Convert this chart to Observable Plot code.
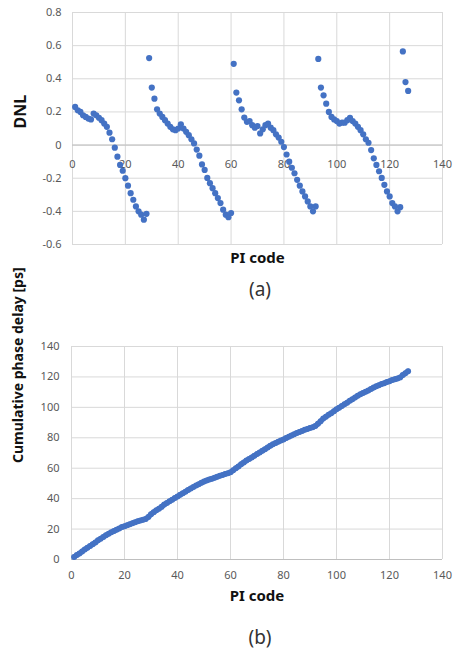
<!DOCTYPE html>
<html><head><meta charset="utf-8">
<script src="https://cdn.jsdelivr.net/npm/d3@7"></script>
<script src="https://cdn.jsdelivr.net/npm/@observablehq/plot@0.6"></script>
<style>
body{margin:0;background:#fff;font-family:"Noto Sans",sans-serif;}
#wrap{position:relative;width:453px;height:654px;overflow:hidden;background:#fff;}
#wrap svg{position:absolute;left:0;}
.cap{position:absolute;left:210px;width:100px;text-align:center;font-size:19px;line-height:24px;color:#333;}
</style></head><body><div id="wrap"></div>
<script>
// PI codes 1..127
const piCodes = d3.range(1, 128);

const dnl = [
  0.23, 0.21, 0.20, 0.18, 0.17, 0.16, 0.155, 0.19, 0.18, 0.165,
  0.15, 0.13, 0.11, 0.075, 0.035, -0.016, -0.07, -0.12, -0.155, -0.20,
  -0.245, -0.29, -0.33, -0.37, -0.40, -0.42, -0.45, -0.415, 0.525, 0.347,
  0.28, 0.216, 0.19, 0.17, 0.15, 0.13, 0.11, 0.095, 0.09, 0.10,
  0.125, 0.10, 0.08, 0.06, 0.035, 0.01, -0.027, -0.064, -0.117, -0.15,
  -0.198, -0.23, -0.26, -0.29, -0.32, -0.35, -0.39, -0.42, -0.435, -0.41,
  0.49, 0.317, 0.27, 0.216, 0.166, 0.14, 0.145, 0.12, 0.105, 0.115,
  0.07, 0.095, 0.12, 0.13, 0.105, 0.09, 0.065, 0.045, 0.02, -0.012,
  -0.057, -0.10, -0.137, -0.17, -0.21, -0.245, -0.28, -0.31, -0.34, -0.37,
  -0.40, -0.37, 0.52, 0.347, 0.30, 0.25, 0.20, 0.17, 0.155, 0.145,
  0.13, 0.135, 0.135, 0.15, 0.165, 0.145, 0.13, 0.11, 0.09, 0.065,
  0.035, 0.014, -0.03, -0.08, -0.12, -0.158, -0.198, -0.24, -0.28, -0.31,
  -0.35, -0.37, -0.40, -0.375, 0.565, 0.38, 0.327
];

const delay = [
  1.7, 2.9, 4.0, 5.2, 6.6, 7.7, 8.9, 10.0, 11.2, 12.6,
  13.7, 14.8, 15.9, 16.9, 17.9, 18.7, 19.6, 20.4, 21.3, 21.8,
  22.5, 23.2, 23.9, 24.5, 25.1, 25.6, 26.1, 26.7, 28.0, 29.7,
  31.0, 32.3, 33.4, 34.6, 36.1, 37.2, 38.3, 39.3, 40.4, 41.4,
  42.5, 43.6, 44.6, 45.7, 46.7, 47.7, 48.6, 49.5, 50.4, 51.2,
  52.0, 52.6, 53.1, 53.7, 54.4, 55.0, 55.6, 56.2, 56.7, 57.3,
  58.6, 59.9, 61.2, 62.6, 63.8, 65.0, 66.1, 67.1, 68.2, 69.3,
  70.3, 71.4, 72.5, 73.6, 74.7, 75.7, 76.5, 77.4, 78.2, 78.9,
  79.8, 80.7, 81.5, 82.3, 83.1, 83.8, 84.5, 85.2, 85.8, 86.5,
  87.0, 87.7, 89.3, 90.8, 92.6, 93.9, 95.1, 96.2, 97.4, 98.7,
  99.8, 100.9, 102.0, 103.1, 104.3, 105.4, 106.5, 107.6, 108.6, 109.5,
  110.3, 111.1, 112.1, 113.0, 113.8, 114.6, 115.3, 115.9, 116.6, 117.2,
  117.9, 118.5, 119.0, 119.7, 121.2, 122.5, 123.8
];

const xTicks = [0, 20, 40, 60, 80, 100, 120, 140];
const dnlTicks = [-0.6, -0.4, -0.2, 0, 0.2, 0.4, 0.6, 0.8];
const dnlTickLabels = ["-0.6", "-0.4", "-0.2", "0", "0.2", "0.4", "0.6", "0.8"];
const delayTicks = [0, 20, 40, 60, 80, 100, 120, 140];

const xLabel = "PI code";
const dnlLabel = "DNL";
const delayLabel = "Cumulative phase delay [ps]";
const captions = ["(a)", "(b)"];

const dnlData = piCodes.map((c, i) => ({code: c, value: dnl[i]}));
const delayData = piCodes.map((c, i) => ({code: c, value: delay[i]}));

const blue = "#4472c4";
const gridColor = "#d9d9d9";
const tickColor = "#595959";
const baseStyle = {fontFamily: "'Noto Sans', sans-serif", fontSize: "11px", color: tickColor, background: "transparent", overflow: "visible"};

const chartA = Plot.plot({
  width: 453, height: 275,
  marginLeft: 72, marginRight: 11, marginTop: 12, marginBottom: 31,
  x: {domain: [0, 140], axis: null},
  y: {domain: [-0.6, 0.8], axis: null},
  style: baseStyle,
  marks: [
    Plot.gridX(xTicks, {stroke: gridColor, strokeOpacity: 1}),
    Plot.gridY(dnlTicks, {stroke: gridColor, strokeOpacity: 1}),
    Plot.ruleY([0], {stroke: "#bfbfbf", strokeWidth: 1}),
    Plot.axisY(dnlTicks, {tickSize: 0, tickPadding: 11, label: null, fontSize: 11, fill: tickColor,
      tickFormat: d => dnlTickLabels[dnlTicks.indexOf(d)]}),
    Plot.text(xTicks, {x: d => d, y: 0, dy: 19, text: d => String(d), fill: tickColor, fontSize: 11}),
    Plot.dot(dnlData, {x: "code", y: "value", r: 3.1, fill: blue, stroke: "none"}),
    Plot.text([dnlLabel], {frameAnchor: "left", dx: -52, rotate: -90, fontWeight: "bold", fontSize: 16, fill: "#111"}),
    Plot.text([xLabel], {frameAnchor: "bottom", dy: 18, fontWeight: "bold", fontSize: 15, fill: "#111"})
  ]
});

const chartB = Plot.plot({
  width: 453, height: 320,
  marginLeft: 71, marginRight: 11, marginTop: 46, marginBottom: 61,
  x: {domain: [0, 140], axis: null},
  y: {domain: [0, 140], axis: null},
  style: baseStyle,
  marks: [
    Plot.gridX(xTicks, {stroke: gridColor, strokeOpacity: 1}),
    Plot.gridY(delayTicks, {stroke: gridColor, strokeOpacity: 1}),
    Plot.ruleY([0], {stroke: "#bfbfbf", strokeWidth: 1}),
    Plot.axisY(delayTicks, {tickSize: 0, tickPadding: 12, label: null, fontSize: 11, fill: tickColor, tickFormat: d => String(d)}),
    Plot.axisX(xTicks, {tickSize: 0, tickPadding: 12, label: null, fontSize: 11, fill: tickColor, tickFormat: d => String(d)}),
    Plot.line(delayData, {x: "code", y: "value", stroke: blue, strokeWidth: 5.2, strokeLinecap: "round", strokeLinejoin: "round", curve: "catmull-rom"}),
    Plot.dot(delayData, {x: "code", y: "value", r: 3, fill: blue, stroke: "none"}),
    Plot.text([delayLabel], {frameAnchor: "left", dx: -53, dy: 10, rotate: -90, fontWeight: "bold", fontSize: 14, fill: "#111"}),
    Plot.text([xLabel], {frameAnchor: "bottom", dy: 41, fontWeight: "bold", fontSize: 15, fill: "#111"})
  ]
});

const wrap = document.getElementById("wrap");
chartA.style.top = "0px";
chartB.style.top = "300px";
wrap.appendChild(chartA);
wrap.appendChild(chartB);
[[captions[0], 277], [captions[1], 625]].forEach(([t, top]) => {
  const d = document.createElement("div");
  d.className = "cap";
  d.style.top = top + "px";
  d.textContent = t;
  wrap.appendChild(d);
});
</script>
</body></html>
